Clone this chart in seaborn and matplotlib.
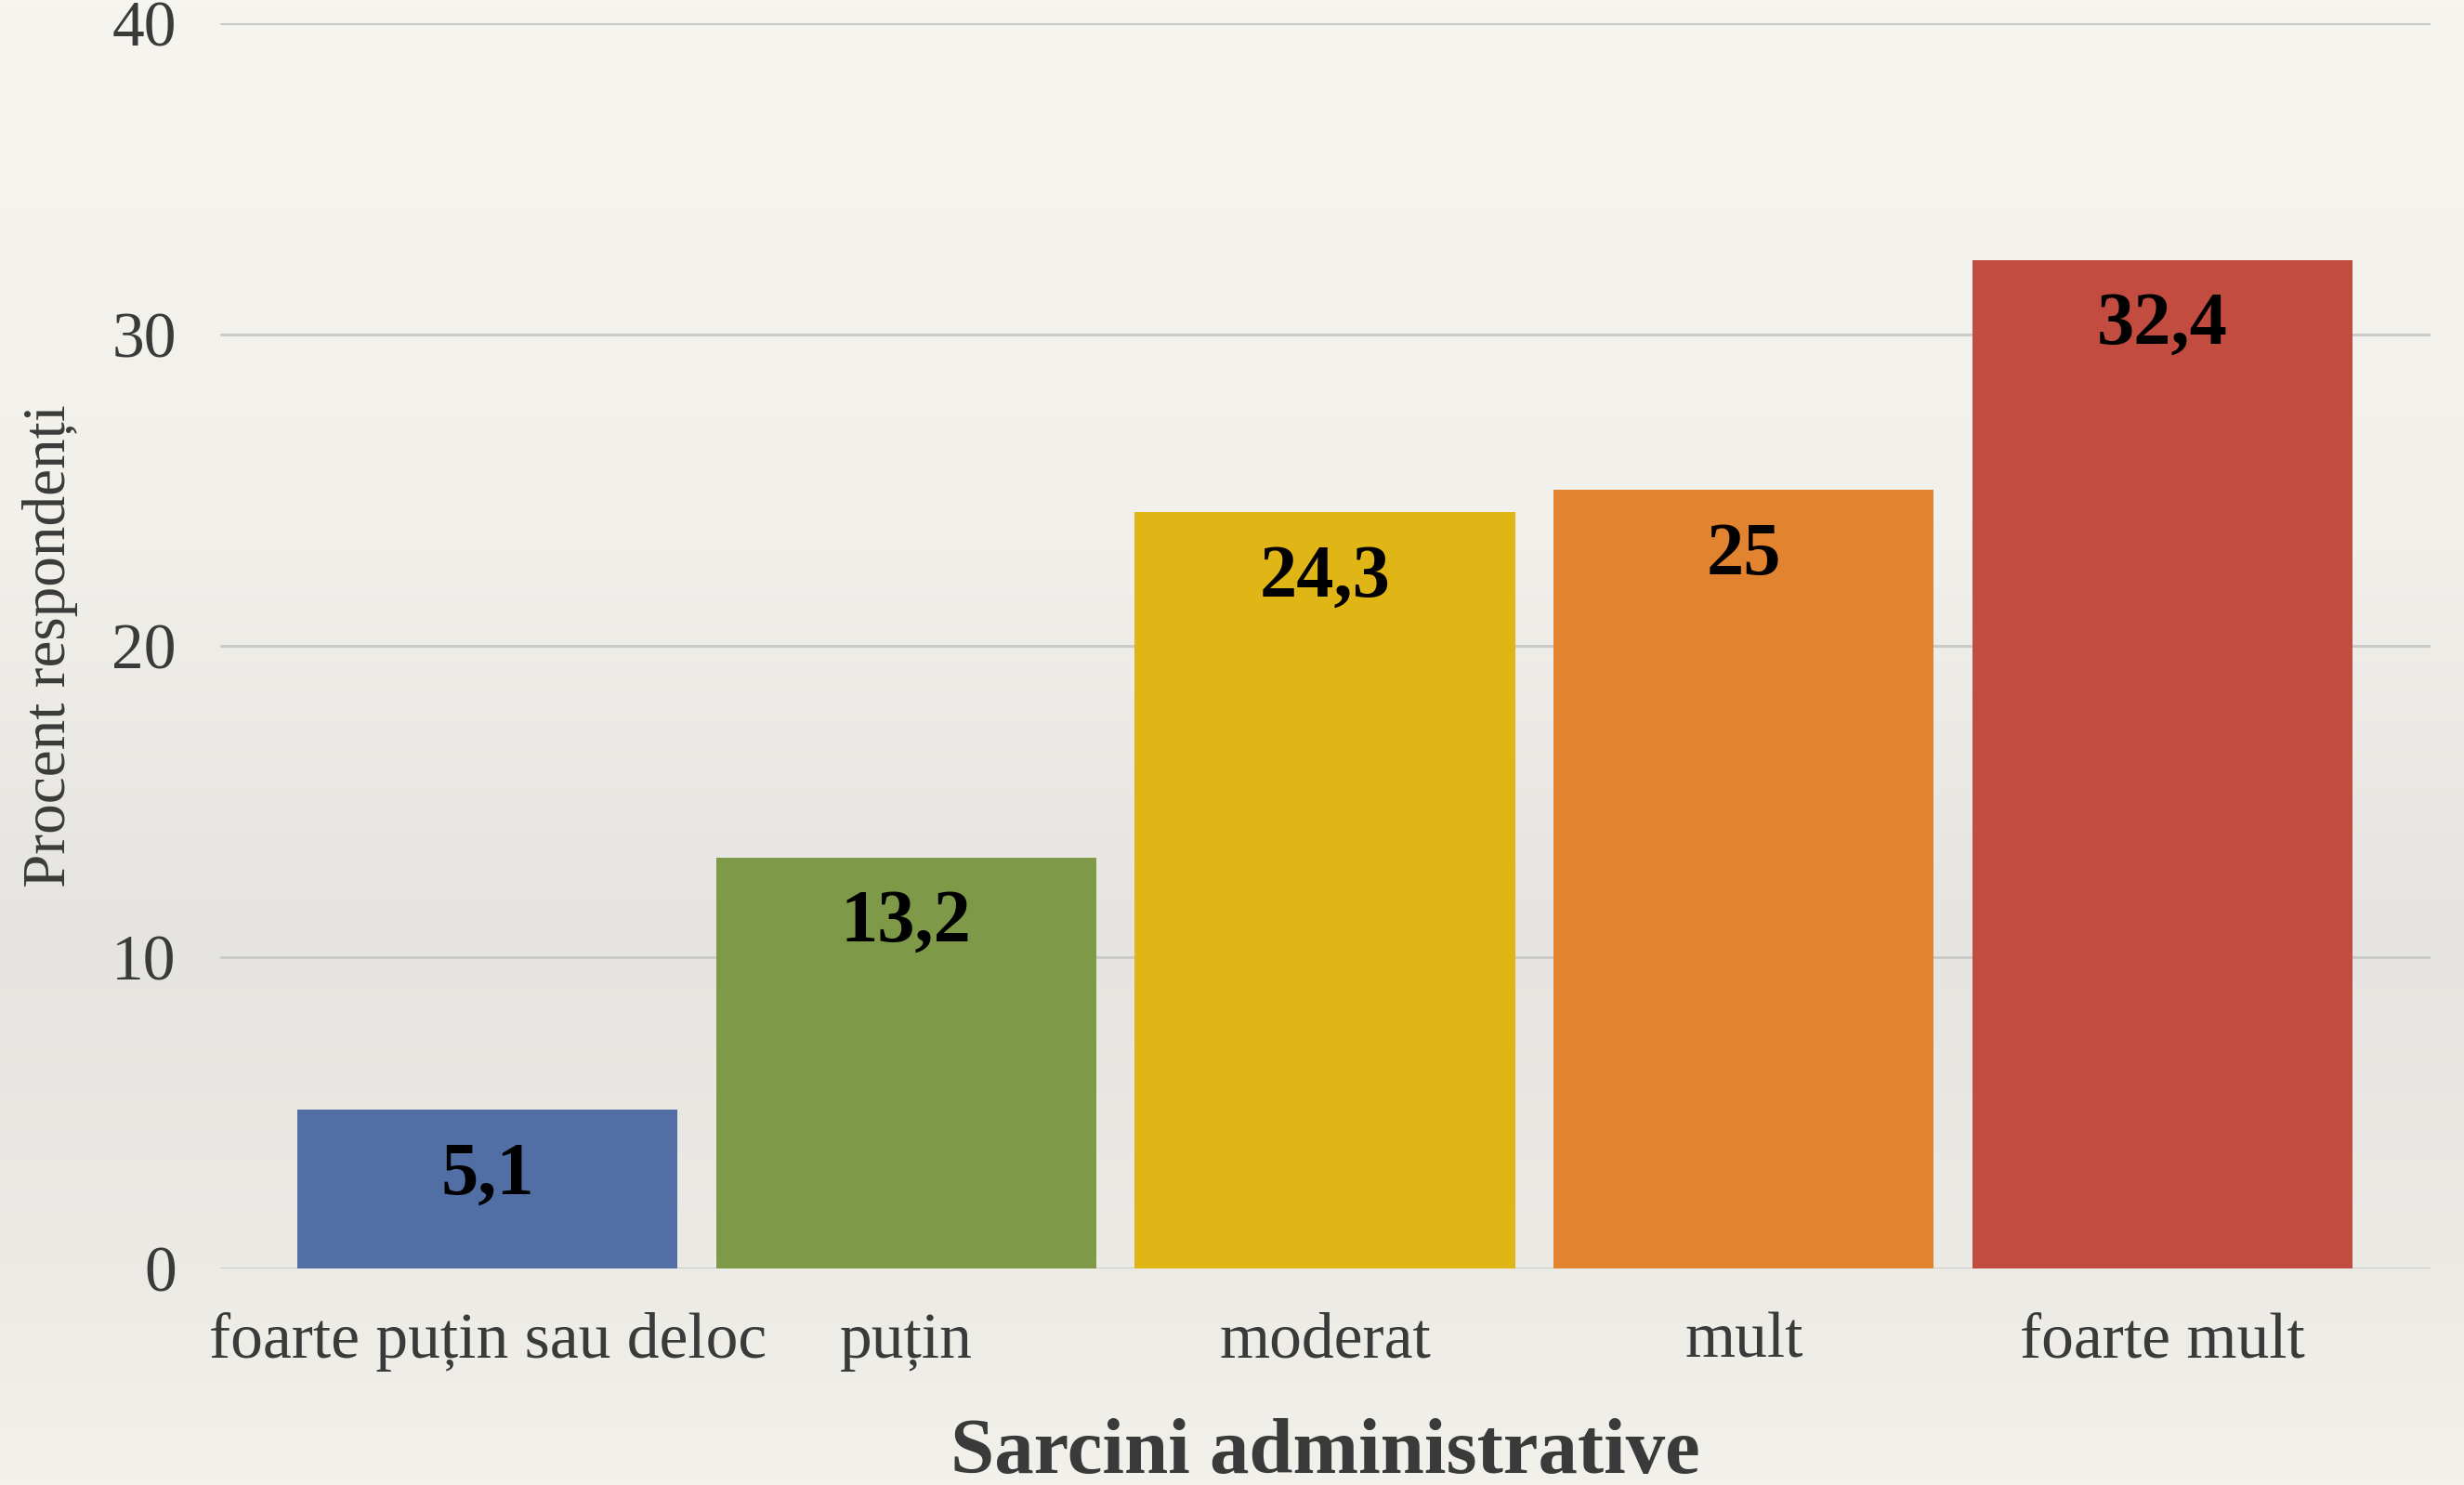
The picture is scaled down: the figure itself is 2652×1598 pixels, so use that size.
import numpy as np
import pandas as pd
import seaborn as sns
import matplotlib.pyplot as plt
from matplotlib.colors import LinearSegmentedColormap

categorii = ['foarte puțin sau deloc', 'puțin', 'moderat', 'mult', 'foarte mult']
procente = [5.1, 13.2, 24.3, 25, 32.4]
etichete = ['5,1', '13,2', '24,3', '25', '32,4']
culori = ['#516EA5', '#7E9948', '#E0B617', '#E2832F', '#C34C41']
y_ticks = [0, 10, 20, 30, 40]

sns.set_theme(style='white')
plt.rcParams['font.family'] = ['Liberation Serif', 'DejaVu Serif']

df = pd.DataFrame({'categorie': categorii, 'procent': procente})

fig = plt.figure(figsize=(26.52, 15.98), dpi=100, facecolor='#F1EFE9')

# fundal tip hartie, cu un gradient vertical discret
bg = fig.add_axes([0, 0, 1, 1], zorder=-10)
fundal = LinearSegmentedColormap.from_list(
    'fundal', [(0, '#F7F5F0'), (0.35, '#F2F0EB'), (0.63, '#E6E4E0'),
               (0.85, '#ECEAE5'), (1, '#F3F1EC')])
bg.imshow(np.linspace(0, 1, 256).reshape(-1, 1), cmap=fundal, aspect='auto',
          extent=[0, 1, 1, 0])
bg.axis('off')

ax = fig.add_axes([0.0894, 0.1458, 0.897, 0.8386])
ax.set_facecolor('none')

sns.barplot(data=df, x='categorie', y='procent', hue='categorie',
            palette=culori, width=0.908, saturation=1, legend=False,
            linewidth=0, ax=ax)

for p, txt in zip(ax.patches, etichete):
    ax.annotate(txt, (p.get_x() + p.get_width() / 2, p.get_height()),
                xytext=(0, -51), textcoords='offset points',
                ha='center', va='center', fontsize=58, fontweight='bold', color='black')

ax.set_ylim(0, 40)
ax.set_xlim(-0.638, 4.64)
ax.set_yticks(y_ticks)
ax.yaxis.grid(True, color='#C8C8C8', linewidth=2)
ax.set_axisbelow(True)
for s in ax.spines.values():
    s.set_visible(False)
ax.tick_params(axis='both', length=0, labelsize=50, labelcolor='#3A3A3A')
ax.tick_params(axis='y', pad=34)
ax.tick_params(axis='x', pad=34)

ax.set_ylabel('Procent respondenți', fontsize=47, color='#3A3A3A', labelpad=26)
ax.set_xlabel('Sarcini administrative', fontsize=61, fontweight='bold', color='#3A3A3A', labelpad=36)

fig.savefig('out.png', dpi=100, facecolor=fig.get_facecolor())
